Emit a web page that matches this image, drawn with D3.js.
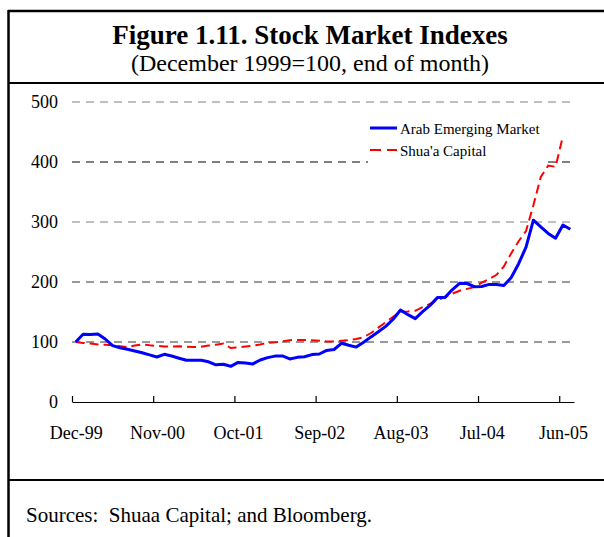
<!DOCTYPE html>
<html>
<head>
<meta charset="utf-8">
<script src="https://cdn.jsdelivr.net/npm/d3@7/dist/d3.min.js"></script>
<style>
  html, body { margin: 0; padding: 0; background: #fff; }
  svg { display: block; font-family: "Liberation Serif", "Times New Roman", serif; }
</style>
</head>
<body>
<svg id="chart" width="604" height="537"></svg>
<script>
// Monthly index values, December 1999 = 100 (end of month), starting Dec-99
const arabEmerging = [
  100, 112.8, 112.5, 113.5, 105, 94, 90.5, 88, 85, 82, 78.5, 75,
  79.5, 76.7, 73, 69.5, 69.5, 69.5, 67, 62, 63, 59.5, 66, 65,
  63.5, 70, 74, 76.5, 76.7, 71.7, 74.4, 75.5, 79, 80, 86, 87.5,
  97.8, 94.5, 91.5, 99.5, 108.5, 117, 126, 138, 153.3, 145.5, 139, 150.5,
  161, 174, 174, 187, 197.8, 197.5, 192.2, 192.5, 196, 196, 194, 207.5,
  230.5, 258, 303, 292, 281, 273, 295, 288
];
const shuaaCapital = [
  100, 98.5, 97.5, 96, 95.5, 94.5, 93, 91.5, 94, 96, 94.5, 93.5,
  92.5, 92.5, 93, 92, 91.7, 92, 94, 95.5, 97.5, 90, 91, 92.5,
  94, 96, 98.5, 99.5, 101, 103, 103.5, 103.3, 103, 102.2, 100.8, 100.8,
  102, 103.3, 105, 108, 115, 124, 133, 142, 150.5, 151, 152, 158,
  163.5, 170, 174.5, 180.5, 185.5, 188.5, 191.5, 199, 205, 212, 226, 248,
  268, 285, 328, 375, 394, 392, 443
];
const seriesNames = ["Arab Emerging Market", "Shua'a Capital"];
const tickMonths = [0, 11, 22, 33, 44, 55, 66];
const tickLabels = ["Dec-99", "Nov-00", "Oct-01", "Sep-02", "Aug-03", "Jul-04", "Jun-05"];
const yTicks = [0, 100, 200, 300, 400, 500];

const svg = d3.select("#chart");
const nMonths = 68;

const x = d3.scaleLinear().domain([0, nMonths]).range([72, 574]);
const y = d3.scaleLinear().domain([0, 500]).range([402, 102]);
const half = (x(1) - x(0)) / 2;

// Frame: left and top border, title separator, footer separator
const frame = svg.append("g").attr("stroke", "#000").attr("fill", "none");
frame.append("line").attr("x1", 8.5).attr("x2", 8.5).attr("y1", 10).attr("y2", 537).attr("stroke-width", 2.5);
frame.append("line").attr("x1", 8).attr("x2", 604).attr("y1", 11).attr("y2", 11).attr("stroke-width", 2.5);
frame.append("line").attr("x1", 8).attr("x2", 604).attr("y1", 83).attr("y2", 83).attr("stroke-width", 2);
frame.append("line").attr("x1", 8).attr("x2", 604).attr("y1", 480).attr("y2", 480).attr("stroke-width", 2);

// Titles
svg.append("text").attr("x", 310).attr("y", 44).attr("text-anchor", "middle")
  .attr("font-size", 27).attr("font-weight", "bold").text("Figure 1.11. Stock Market Indexes");
svg.append("text").attr("x", 310).attr("y", 71).attr("text-anchor", "middle")
  .attr("font-size", 24).text("(December 1999=100, end of month)");

// Footer note
svg.append("text").attr("x", 26).attr("y", 522).attr("font-size", 21)
  .attr("xml:space", "preserve").style("white-space", "pre")
  .text("Sources:  Shuaa Capital; and Bloomberg.");

// Horizontal dashed gridlines
svg.append("g").selectAll("line")
  .data(yTicks.filter(v => v > 0))
  .join("line")
  .attr("x1", x(0)).attr("x2", 572)
  .attr("y1", d => y(d)).attr("y2", d => y(d))
  .attr("stroke", d => d >= 300 ? "#808080" : "#333")
  .attr("stroke-width", d => d === 400 ? 1.8 : 1)
  .attr("stroke-dasharray", "8,6");

// Y axis (labels only)
const yAxis = svg.append("g").attr("transform", `translate(${x(0)},0)`)
  .call(d3.axisLeft(y).tickValues(yTicks).tickSize(0).tickPadding(14));
yAxis.select(".domain").remove();
yAxis.selectAll("text").attr("font-size", 18).attr("font-family", "Liberation Serif").attr("fill", "#000");

// X axis with inward tick marks, labels centred on their month
const xAxis = svg.append("g").attr("transform", `translate(0,${y(0)})`)
  .call(d3.axisBottom(x).tickValues(tickMonths)
    .tickFormat((d, i) => tickLabels[i])
    .tickSizeInner(-6).tickSizeOuter(0).tickPadding(24));
xAxis.select(".domain").attr("stroke", "#000").attr("stroke-width", 1.2);
xAxis.selectAll(".tick line").attr("stroke", "#000").attr("stroke-width", 1.2);
xAxis.selectAll("text").attr("x", half).attr("font-size", 18)
  .attr("font-family", "Liberation Serif").attr("fill", "#000");

// Series lines
const line = d3.line().x((d, i) => x(i + 0.5)).y(d => y(d));

svg.append("path").datum(shuaaCapital)
  .attr("fill", "none").attr("stroke", "#FF0000").attr("stroke-width", 2)
  .attr("stroke-dasharray", "9,5").attr("d", line);

svg.append("path").datum(arabEmerging)
  .attr("fill", "none").attr("stroke", "#0000FF").attr("stroke-width", 3)
  .attr("stroke-linejoin", "round").attr("d", line);

// Legend
const legend = svg.append("g").attr("transform", "translate(368,115)");
legend.append("rect").attr("width", 178).attr("height", 49).attr("fill", "#fff");
legend.append("line").attr("x1", 2).attr("x2", 29).attr("y1", 13).attr("y2", 13)
  .attr("stroke", "#0000FF").attr("stroke-width", 3);
legend.append("line").attr("x1", 2).attr("x2", 29).attr("y1", 35).attr("y2", 35)
  .attr("stroke", "#FF0000").attr("stroke-width", 2).attr("stroke-dasharray", "11,6");
legend.selectAll("text.lbl").data(seriesNames).join("text")
  .attr("class", "lbl")
  .attr("x", 32).attr("y", (d, i) => 19 + i * 22)
  .attr("font-size", 15).text(d => d);
</script>
</body>
</html>
